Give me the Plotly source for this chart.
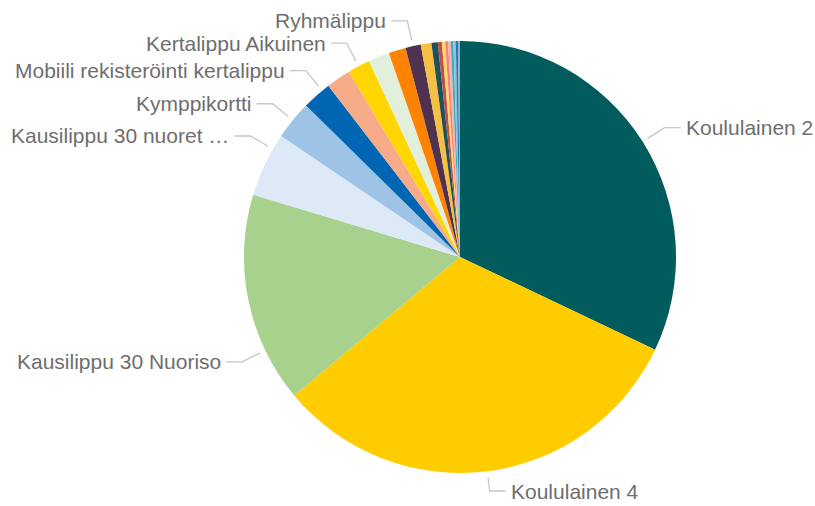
import math
import plotly.graph_objects as go

# ---------------- data ----------------
categories = [
    "Koululainen 2", "Koululainen 4", "Kausilippu 30 Nuoriso", "Kausilippu 30 nuoret …",
    "Kymppikortti", "Mobiili rekisteröinti kertalippu", "Muu 1", "Kertalippu Aikuinen",
    "Muu 2", "Muu 3", "Ryhmälippu", "Muu 4", "Muu 5", "Muu 6", "Muu 7", "Muu 8",
    "Muu 9", "Muu 10", "Muu 11", "Muu 12", "Muu 13",
]
values = [32.0, 31.8, 15.7, 4.8, 2.9, 2.2, 1.83, 1.67, 1.58, 1.28, 1.14, 0.80,
          0.47, 0.30, 0.24, 0.22, 0.20, 0.19, 0.18, 0.17, 0.14]
shown_labels = {
    "Koululainen 2", "Koululainen 4", "Kausilippu 30 Nuoriso", "Kausilippu 30 nuoret …",
    "Kymppikortti", "Mobiili rekisteröinti kertalippu", "Kertalippu Aikuinen", "Ryhmälippu",
}

# ---------------- style ----------------
colors = ["#025c5e", "#ffcc00", "#a9d18e", "#dde9f6", "#9dc3e6", "#0066b3", "#f8ab88",
          "#ffd600", "#e2efda", "#ff8200", "#4f3250", "#f6c142", "#1f505c", "#c0504d",
          "#ffd966", "#f4827f", "#f8b4b4", "#38b2ac", "#8fc0e0", "#2e75b6", "#7fb3d5"]
W, H = 815, 506
CX, CY, R = 460, 257, 216          # pie centre / radius in pixels
label_nudge = {"Kausilippu 30 Nuoriso": -14.1, "Kausilippu 30 nuoret …": 4.6,
               "Mobiili rekisteröinti kertalippu": 1.9}
R_START, R_ELBOW, HSEG, GAP = R + 6, R + 26, 16, 3
LINE_COL, TEXT_COL = "#c6c6c6", "#6e6e6e"
FONT = "Liberation Sans"

fig = go.Figure(go.Pie(
    labels=categories, values=values, sort=False, direction="clockwise", rotation=0,
    marker=dict(colors=colors, line=dict(width=0)),
    textinfo="none", hoverinfo="label+percent",
    domain=dict(x=[(CX - R) / W, (CX + R) / W],
                y=[(H - CY - R) / H, (H - CY + R) / H]),
))

def px(x, y):
    return x / W, 1 - y / H

total = sum(values)
cum = 0.0
shapes, annotations = [], []
for name, v in zip(categories, values):
    a0 = cum / total * 360
    cum += v
    a1 = cum / total * 360
    if name not in shown_labels:
        continue
    ang = math.radians((a0 + a1) / 2 + label_nudge.get(name, 0))
    sx, sy = CX + R_START * math.sin(ang), CY - R_START * math.cos(ang)
    ex, ey = CX + R_ELBOW * math.sin(ang), CY - R_ELBOW * math.cos(ang)
    lim = H - 15
    if ey > lim:
        t = (lim - sy) / (ey - sy)
        ex, ey = sx + (ex - sx) * t, lim
    side = 1 if math.sin(ang) >= 0 else -1
    hx = ex + side * HSEG
    p = [px(sx, sy), px(ex, ey), px(hx, ey)]
    shapes.append(dict(type="path", xref="paper", yref="paper",
                       path="M {} {} L {} {} L {} {}".format(p[0][0], p[0][1], p[1][0], p[1][1], p[2][0], p[2][1]),
                       line=dict(color=LINE_COL, width=1.3)))
    tx, ty = px(hx + side * GAP, ey)
    annotations.append(dict(xref="paper", yref="paper", x=tx, y=ty, text=name, showarrow=False,
                            xanchor="left" if side > 0 else "right", yanchor="middle",
                            font=dict(family=FONT, size=21, color=TEXT_COL)))

fig.update_layout(
    width=W, height=H, margin=dict(l=0, r=0, t=0, b=0),
    paper_bgcolor="white", plot_bgcolor="white", showlegend=False,
    shapes=shapes, annotations=annotations,
)
fig.write_html("out.html", config={"displayModeBar": False},
               post_script="document.body.style.margin='0';")
